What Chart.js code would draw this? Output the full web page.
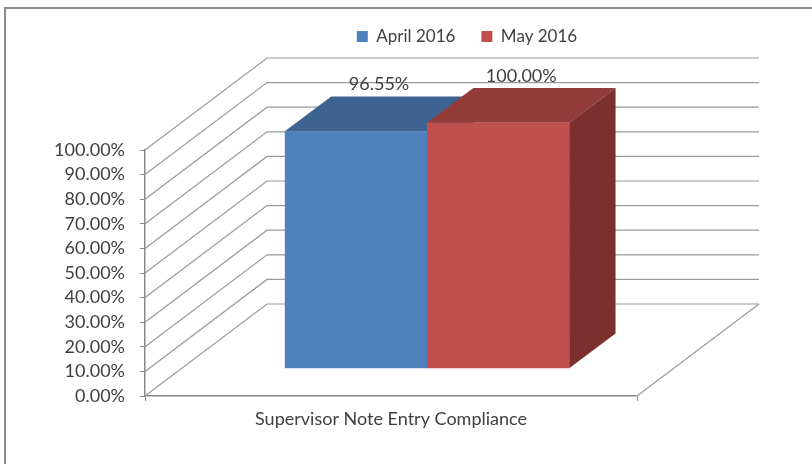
<!DOCTYPE html>
<html>
<head>
<meta charset="utf-8">
<script src="https://cdn.jsdelivr.net/npm/chart.js@4.4.0/dist/chart.umd.min.js"></script>
<style>
    html, body { margin: 0; padding: 0; background: #fff; overflow: hidden; }
    #wrap { position: relative; width: 812px; height: 464px; }
    #frame {
        position: absolute; left: 4px; top: 7px; right: -10px; bottom: -10px;
        border-top: 2px solid #8c8c8c; border-left: 2px solid #8c8c8c;
    }
    #chart { position: absolute; left: 0; top: 0; }
</style>
</head>
<body>
<div id="wrap">
    <div id="frame"></div>
    <canvas id="chart" width="812" height="464"></canvas>
</div>
<script>
const categories = ["Supervisor Note Entry Compliance"];
const seriesNames = ["April 2016", "May 2016"];
const aprilValues = [96.55];
const mayValues = [100.00];
const yTickValues = [0, 10, 20, 30, 40, 50, 60, 70, 80, 90, 100];

const frontColors = ["#4F81BD", "#C0504D"];
const topColors = ["#3D6390", "#933C3A"];
const sideColors = ["#35577F", "#7C302E"];

// 3D look: depth vector of the box, where bars sit inside it and how deep they are
const DEPTH = { x: 122, y: -92 };
const BAR_FRONT = 0.295;
const BAR_DEPTH = 0.38;
const LEGEND_CENTER_X = 467;
const LEGEND_TOP = 2;

const FONT = "Lato, 'Liberation Sans', sans-serif";
Chart.defaults.font.family = FONT;
Chart.defaults.font.size = 18;
Chart.defaults.color = "#404040";

function fillPoly(ctx, pts) {
    ctx.beginPath();
    ctx.moveTo(pts[0][0], pts[0][1]);
    for (let i = 1; i < pts.length; i++) ctx.lineTo(pts[i][0], pts[i][1]);
    ctx.closePath();
    ctx.fill();
}

const threeD = {
    id: "threeD",
    afterLayout(chart) {
        const lg = chart.legend;
        const shift = LEGEND_CENTER_X - (lg.left + lg.right) / 2;
        lg.left += shift;
        lg.right += shift;
        lg.top = LEGEND_TOP;
        lg.bottom = LEGEND_TOP + lg.height;
    },
    beforeDatasetsDraw(chart) {
        const ctx = chart.ctx;
        const { left, right, bottom } = chart.chartArea;
        const yScale = chart.scales.y;

        ctx.save();
        // side wall + back wall grid lines
        ctx.strokeStyle = "#9a9a9a";
        ctx.lineWidth = 1.2;
        yScale.ticks.forEach(t => {
            const py = yScale.getPixelForValue(t.value);
            ctx.beginPath();
            ctx.moveTo(left, py);
            ctx.lineTo(left + DEPTH.x, py + DEPTH.y);
            ctx.lineTo(right + DEPTH.x, py + DEPTH.y);
            ctx.stroke();
        });
        // floor right edge
        ctx.beginPath();
        ctx.moveTo(right, bottom);
        ctx.lineTo(right + DEPTH.x, bottom + DEPTH.y);
        ctx.stroke();

        // top and side faces of the bars
        const ox = DEPTH.x * BAR_FRONT, oy = DEPTH.y * BAR_FRONT;
        const dx = DEPTH.x * BAR_DEPTH, dy = DEPTH.y * BAR_DEPTH;
        chart.data.datasets.forEach((ds, i) => {
            chart.getDatasetMeta(i).data.forEach(bar => {
                const l = bar.x - bar.width / 2 + ox;
                const r = bar.x + bar.width / 2 + ox;
                const t = bar.y + oy;
                const b = bar.base + oy;
                ctx.fillStyle = topColors[i];
                fillPoly(ctx, [[l, t], [r, t], [r + dx, t + dy], [l + dx, t + dy]]);
                ctx.fillStyle = sideColors[i];
                fillPoly(ctx, [[r, t], [r + dx, t + dy], [r + dx, b + dy], [r, b]]);
            });
        });
        // front faces are drawn by Chart.js, moved into the bar plane
        ctx.translate(ox, oy);
    },
    afterDatasetsDraw(chart) {
        const ctx = chart.ctx;
        ctx.restore();

        const ox = DEPTH.x * BAR_FRONT, oy = DEPTH.y * BAR_FRONT;
        const dx = DEPTH.x * BAR_DEPTH, dy = DEPTH.y * BAR_DEPTH;
        ctx.save();
        ctx.font = "18px " + FONT;
        ctx.fillStyle = "#404040";
        ctx.textAlign = "center";
        ctx.textBaseline = "bottom";
        chart.data.datasets.forEach((ds, i) => {
            chart.getDatasetMeta(i).data.forEach((bar, j) => {
                const v = ds.data[j];
                ctx.fillText(v.toFixed(2) + "%", bar.x + ox + dx / 2, bar.y + oy + dy - 3);
            });
        });
        ctx.restore();
    }
};

new Chart(document.getElementById("chart"), {
    type: "bar",
    data: {
        labels: categories,
        datasets: [
            {
                label: seriesNames[0],
                data: aprilValues,
                backgroundColor: frontColors[0],
                borderWidth: 0,
                categoryPercentage: 0.578,
                barPercentage: 1,
                clip: false
            },
            {
                label: seriesNames[1],
                data: mayValues,
                backgroundColor: frontColors[1],
                borderWidth: 0,
                categoryPercentage: 0.578,
                barPercentage: 1,
                clip: false
            }
        ]
    },
    options: {
        responsive: false,
        animation: false,
        layout: { padding: { left: 0, right: 175, top: 97, bottom: 0 } },
        plugins: {
            legend: {
                position: "top",
                labels: { boxWidth: 11, boxHeight: 11, padding: 26, font: { size: 17 } }
            },
            tooltip: { enabled: false }
        },
        scales: {
            x: {
                grid: { drawOnChartArea: false, tickLength: 5, color: "#8a8a8a" },
                border: { color: "#8a8a8a", width: 1.5 },
                ticks: { padding: 7 },
                afterFit(scale) { scale.height = 68; }
            },
            y: {
                min: 0,
                max: 100,
                grid: { drawOnChartArea: false, tickLength: 5, color: "#8a8a8a" },
                border: { color: "#8a8a8a", width: 1.5 },
                ticks: {
                    padding: 15,
                    autoSkip: false,
                    callback: v => v.toFixed(2) + "%"
                },
                afterBuildTicks(scale) {
                    scale.ticks = yTickValues.map(v => ({ value: v }));
                },
                afterFit(scale) { scale.width = 145; }
            }
        }
    },
    plugins: [threeD]
});
</script>
</body>
</html>
